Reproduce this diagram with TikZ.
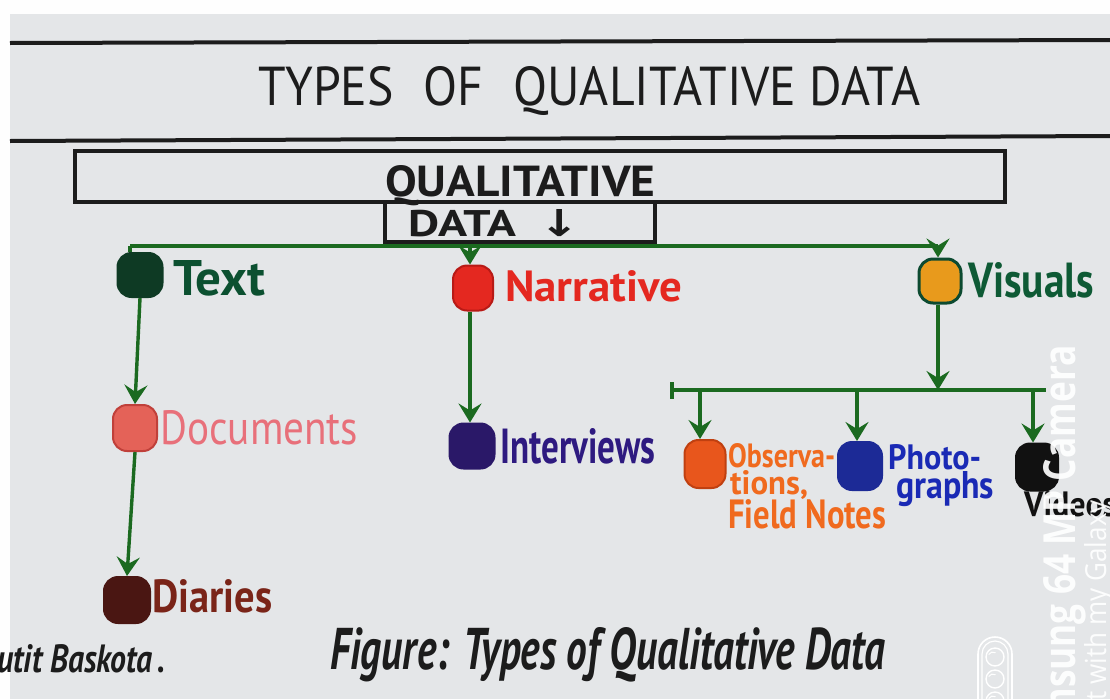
\documentclass[tikz,border=0pt]{standalone}
\usepackage{fontspec}
\setmainfont{PT Sans}
\newfontfamily\markfont{DejaVu Sans}
\newfontfamily\wmfont{Open Sans}
\usetikzlibrary{arrows.meta}

% scale a piece of text to a given width and height (in pt)
\newcommand{\fitto}[3]{\resizebox{#1pt}{#2pt}{#3}}

\definecolor{paper}{HTML}{E4E6E8}
\definecolor{inkblack}{HTML}{1C1C1C}
\definecolor{wiregreen}{HTML}{1B6A20}
\definecolor{cText}{HTML}{0E3A24}
\definecolor{cTextL}{HTML}{0B5030}
\definecolor{cNarr}{HTML}{E42820}
\definecolor{cNarrD}{HTML}{B81A16}
\definecolor{cVis}{HTML}{E89A1C}
\definecolor{cVisD}{HTML}{0C4A30}
\definecolor{cVisL}{HTML}{0E5A35}
\definecolor{cDoc}{HTML}{E46258}
\definecolor{cDocD}{HTML}{C0403A}
\definecolor{cDocL}{HTML}{E8707A}
\definecolor{cInt}{HTML}{2A1868}
\definecolor{cIntL}{HTML}{2E1A80}
\definecolor{cDia}{HTML}{4A1612}
\definecolor{cDiaL}{HTML}{7A2418}
\definecolor{cObs}{HTML}{E8561C}
\definecolor{cObsD}{HTML}{C04010}
\definecolor{cObsL}{HTML}{F06A1E}
\definecolor{cPho}{HTML}{1C2A96}
\definecolor{cPhoL}{HTML}{1A2AB5}
\definecolor{cVid}{HTML}{111111}

\begin{document}
\begin{tikzpicture}[x=1pt,y=-1pt,
  inkline/.style={draw=inkblack, line width=4pt},
  wire/.style={draw=wiregreen, line width=3.4pt},
  arr/.style={wire, -{Stealth[length=19pt,width=23pt,inset=7pt]}},
  blob/.style={rectangle, rounded corners=14pt, line width=2pt, inner sep=0pt},
  lbl/.style={inner sep=0pt, anchor=base west},
]
\useasboundingbox (0,0) rectangle (1110,699);
\clip (0,0) rectangle (1110,699);

% sheet of paper
\fill[white!96!paper] (0,0) rectangle (1110,699);
\fill[paper] (10,14) rectangle (1110,699);

% heading band
\draw[inkline] (10,43) -- (1110,40);
\draw[inkline] (10,141) -- (1110,136);
\node[lbl, text=inkblack] (title) at (258,105) {\fitto{662}{39}{TYPES\hspace{0.6em}OF\hspace{0.6em}QUALITATIVE DATA}};

% root boxes
\draw[inkline] (75,151) rectangle (1005,202);
\node[lbl, text=inkblack] (rootA) at (385,196) {\fitto{270}{31}{\bfseries QUALITATIVE}};
\draw[inkline] (385,202) rectangle (655,242);
\node[lbl, text=inkblack] (rootB) at (408,236) {\fitto{172}{27}{\bfseries DATA\hspace{0.5em}{\markfont\bfseries ↓}}};

% category nodes
\node[blob, fill=cText, draw=cText, minimum width=45pt, minimum height=44pt] (nText) at (140,275) {};
\node[blob, fill=cNarr, draw=cNarrD, minimum width=40pt, minimum height=45pt] (nNarr) at (473,288) {};
\node[blob, fill=cVis, draw=cVisD, line width=3pt, minimum width=42pt, minimum height=44pt] (nVis) at (940,281) {};
\node[blob, fill=cDoc, draw=cDocD, minimum width=44pt, minimum height=46pt] (nDoc) at (135,428) {};
\node[blob, fill=cInt, draw=cInt, minimum width=45pt, minimum height=45pt] (nInt) at (472,446) {};
\node[blob, fill=cDia, draw=cDia, minimum width=46pt, minimum height=46pt] (nDia) at (127,600) {};
\node[blob, fill=cObs, draw=cObsD, minimum width=41pt, minimum height=48pt] (nObs) at (705,464) {};
\node[blob, fill=cPho, draw=cPho, minimum width=44pt, minimum height=48pt] (nPho) at (860,466) {};
\node[blob, fill=cVid, draw=cVid, minimum width=42pt, minimum height=47pt] (nVid) at (1037,467) {};

% labels
\node[lbl, text=cTextL] (lText) at (173,295) {\fitto{92}{35}{\bfseries Text}};
\node[lbl, text=cNarr] (lNarr) at (505,301) {\fitto{177}{31}{\bfseries Narrative}};
\node[lbl, text=cVisL] (lVis) at (968,297) {\fitto{126}{35}{\bfseries Visuals}};
\node[lbl, text=cDocL] (lDoc) at (160,444) {\fitto{198}{34}{Documents}};
\node[lbl, text=cIntL] (lInt) at (500,463) {\fitto{155}{35}{\bfseries Interviews}};
\node[lbl, text=cDiaL] (lDia) at (152,612) {\fitto{120}{33}{\bfseries Diaries}};
\node[lbl, text=cObsL] (lObsA) at (728,467) {\fitto{107}{24}{\bfseries Observa-}};
\node[lbl, text=cObsL] (lObsB) at (730,494) {\fitto{78}{24}{\bfseries tions,}};
\node[lbl, text=cObsL] (lObsC) at (728,528) {\fitto{158}{29}{\bfseries Field Notes}};
\node[lbl, text=cPhoL] (lPhoA) at (888,469) {\fitto{93}{25}{\bfseries Photo-}};
\node[lbl, text=cPhoL] (lPhoB) at (896,498) {\fitto{98}{27}{\bfseries graphs}};
\node[lbl, text=cVid] (lVid) at (1024,516) {\fitto{92}{25}{\bfseries Videos}};

% connectors from the root
\coordinate (jL) at (130,246);
\coordinate (jN) at (470,246);
\coordinate (jV) at (938,246);
\draw[wire] (jL) -- (jV);
\draw[wire] (jL) -- (jL |- nText.north);
\draw[arr] (jN) -- (jN |- nNarr.north);
\draw[arr] (jV) -- (jV |- nVis.north);

% first level to second level
\draw[arr] (nText.south) -- (nDoc.north);
\draw[arr] (nDoc.south) -- (nDia.north);
\draw[arr] (nNarr.south -| jN) -- (jN |- nInt.north);

% visuals branch
\coordinate (jB) at (938,390);
\coordinate (bL) at (672,390);
\coordinate (bR) at (1046,390);
\draw[arr] (jV |- nVis.south) -- (jB);
\draw[wire] (bL) -- (bR);
\draw[wire] ([yshift=8pt]bL) -- ([yshift=-9pt]bL);
\coordinate (d1) at (700,390);
\coordinate (d2) at (857,390);
\coordinate (d3) at (1033,390);
\draw[arr] (d1) -- (d1 |- nObs.north);
\draw[arr] (d2) -- (d2 |- nPho.north);
\draw[arr] (d3) -- (d3 |- nVid.north);

% caption and signature
\node[lbl, text=inkblack] (caption) at (330,669) {\fitto{555}{42}{\itshape\bfseries Figure: Types of Qualitative Data}};
\node[inner sep=0pt, anchor=base east, text=inkblack] (sign) at (166,672) {\fitto{185}{28}{\itshape\bfseries hutit Baskota\,.}};

% camera imprint
\node[inner sep=0pt, anchor=base east, rotate=90, text=white, opacity=0.92] (wmA) at (1075,345)
  {\fitto{418}{32}{\wmfont\bfseries Samsung 64 MP Camera}};
\node[inner sep=0pt, anchor=base east, rotate=90, text=white, opacity=0.92] (wmB) at (1106,500)
  {\fitto{246}{22}{\wmfont Shot with my Galaxy}};
\draw[white, line width=1.6pt, rounded corners=17pt] (978,720) -- (978,637) -- (1012,637) -- (1012,720);
\draw[white, line width=1.2pt, rounded corners=13pt] (982,720) -- (982,641) -- (1008,641) -- (1008,720);
\foreach \cy in {657,679,701} {
  \draw[white, line width=1.4pt] (995,\cy) circle (9pt);
  \draw[white, line width=1pt] (993,\cy) ++(150:5pt) arc (150:60:5pt);
}
\end{tikzpicture}
\end{document}
